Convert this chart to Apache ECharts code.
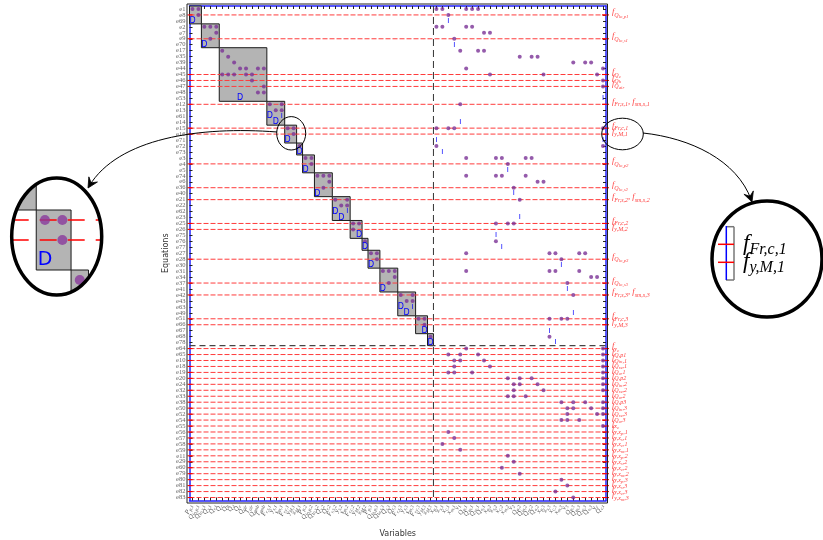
<!DOCTYPE html>
<html><head><meta charset="utf-8">
<script src="https://cdn.jsdelivr.net/npm/echarts/dist/echarts.min.js"></script>
<style>html,body{margin:0;padding:0;background:#fff}#c{width:823px;height:540px}</style>
</head><body><div id="c"></div>
<script>
// ---------------- data ----------------
const equations = ['e1','e8','e69','e2','e7','e9','e70','e17','e35','e39','e44','e45','e46','e47','e48','e53','e12','e13','e61','e14','e15','e16','e71','e72','e73','e3','e4','e5','e74','e6','e36','e40','e21','e22','e62','e23','e25','e26','e75','e76','e77','e27','e28','e30','e31','e34','e37','e41','e42','e43','e63','e49','e51','e66','e67','e68','e78','e64','e65','e10','e18','e19','e20','e24','e32','e33','e38','e50','e52','e54','e55','e56','e57','e58','e59','e11','e29','e60','e79','e80','e81','e82','e83'];
const variables = ['P_{p,1}','Q_{lo,p,1}','Q_{lo,s,1}','Q_{s,1}','Q_{r,1}','Q_{c}','Q_{h}','Q_{d}','Q_{e}','Q_{air}','T_{air}','Q_{amb}','T_{amb}','F_{r,s,1}','y_{s,1}','s_{m,1}','F_{r,c,1}','y_{M,1}','x_{M,1}','P_{p,2}','Q_{lo,p,2}','Q_{lo,s,2}','Q_{s,2}','Q_{r,2}','F_{r,s,2}','y_{s,2}','s_{m,2}','F_{r,c,2}','y_{M,2}','x_{M,2}','P_{p,3}','Q_{lo,p,3}','Q_{lo,s,3}','Q_{s,3}','Q_{r,3}','F_{r,s,3}','y_{s,3}','s_{m,3}','F_{r,c,3}','y_{M,3}','x_{M,3}','x_{p,1}','x_{s,1}','x_{c,1}','x_{m,1}','v_{1}','Q_{p,1}','Q_{in,1}','Q_{re,1}','Q_{o,1}','x_{p,2}','x_{s,2}','x_{c,2}','x_{m,2}','v_{2}','Q_{p,2}','Q_{in,2}','Q_{re,2}','Q_{o,2}','x_{p,3}','x_{s,3}','x_{c,3}','x_{m,3}','v_{3}','Q_{p,3}','Q_{in,3}','Q_{re,3}','Q_{o,3}','y_{c}','Q_{c,t}'];

// diagonal blocks [firstCol, lastCol, firstRow, lastRow]
const blocks = [[0,1,0,2],[2,4,3,6],[5,12,7,15],[13,15,16,19],[16,17,20,22],[18,18,23,24],
  [19,20,25,27],[21,23,28,31],[24,26,32,35],[27,28,36,38],[29,29,39,40],
  [30,31,41,43],[32,34,44,47],[35,37,48,51],[38,39,52,54],[40,40,55,56]];
// incidence points [col,row] inside the diagonal blocks
const blockDots = [[0,0],[1,0],[1,1],[2,3],[3,3],[4,3],[4,4],[3,5],
  [5,7],[6,8],[7,9],[8,10],[9,10],[11,10],[12,10],[5,11],[6,11],[7,11],[9,11],[10,11],[10,12],[12,13],[11,14],[12,14],
  [13,16],[15,16],[14,17],[15,17],[16,20],[17,20],[17,21],[18,23],
  [19,25],[20,25],[20,26],[21,28],[22,28],[23,28],[23,29],[22,30],
  [24,32],[26,32],[25,33],[26,33],[27,36],[28,36],[27,37],[29,39],
  [30,41],[31,41],[31,42],[32,44],[33,44],[34,44],[34,45],[33,46],
  [35,48],[37,48],[36,49],[37,49],[38,52],[39,52],[39,53],[40,55]];
// incidence points [col,row] in the coupling columns / rows
const couplingDots = [[41,0],[42,0],[46,0],[47,0],[48,0],[43,1],[41,3],[42,3],[46,3],[47,3],[49,4],[50,4],[44,5],
  [45,7],[48,7],[49,7],[55,8],[57,8],[58,8],[64,9],[66,9],[67,9],[46,10],[69,10],[50,11],[59,11],[68,11],[69,12],[69,13],
  [45,16],[41,20],[43,20],[44,20],[69,20],[41,23],[69,23],[46,25],[51,25],[52,25],[56,25],[57,25],[53,26],
  [46,28],[51,28],[52,28],[56,28],[58,29],[59,29],[54,30],[55,32],[51,36],[53,36],[54,36],[51,39],
  [46,41],[60,41],[61,41],[65,41],[66,41],[62,42],[46,44],[60,44],[61,44],[65,44],[67,45],[68,45],[63,46],[64,48],
  [60,52],[62,52],[63,52],[60,55],
  [46,57],[69,57],[43,58],[45,58],[48,58],[69,58],[44,59],[45,59],[49,59],[69,59],[44,60],[50,60],[69,60],
  [43,61],[44,61],[47,61],[69,61],[53,62],[55,62],[57,62],[69,62],[54,63],[55,63],[58,63],[69,63],[54,64],[59,64],[69,64],
  [53,65],[54,65],[56,65],[62,66],[64,66],[66,66],[69,66],[63,67],[64,67],[67,67],[69,67],[63,68],[68,68],[69,68],
  [62,69],[63,69],[65,69],[69,70],[43,71],[44,72],[42,73],[45,74],[53,75],[54,76],[52,77],[55,78],[62,79],[63,80],[61,81],[64,82]];
// 'D' and 'I' markers [col,row]
const dMarks = [[0,2],[2,6],[8,15],[13,18],[14,19],[16,22],[18,24],[19,27],[21,31],[24,34],[25,35],[28,38],[29,40],[30,43],[32,47],[35,50],[36,51],[39,54],[40,56]];
const iMarks = [[15,18],[26,34],[37,50],[43,2],[44,6],[69,15],[45,19],[41,22],[69,22],[42,24],[53,27],[54,31],[55,35],[51,38],[52,40],[62,43],[63,47],[64,51],[60,54],[61,56]];
// rows carrying a red dashed constraint line
const constraintRows = [1,5,11,12,13,16,20,21,26,30,32,36,37,42,46,48,52,53,
  57,58,59,60,61,62,63,64,65,66,67,68,69,70,71,72,73,74,75,76,77,78,79,80,81,82];
const constraintNames = ['f_{Q_{lo,p1}}','f_{Q_{lo,s1}}','f_{Q_c}','f_{Q_h}','f_{Q_{air}}','f_{Fr,s,1}, f_{sm,s,1}','f_{Fr,c,1}','f_{y,M,1}',
  'f_{Q_{lo,p2}}','f_{Q_{lo,s2}}','f_{Fr,s,2}, f_{sm,s,2}','f_{Fr,c,2}','f_{y,M,2}','f_{Q_{lo,p3}}','f_{Q_{lo,s3}}','f_{Fr,s,3}, f_{sm,s,3}','f_{Fr,c,3}','f_{y,M,3}',
  'f_{y_c}','f_{Q,p1}','f_{Q_{in},1}','f_{Q_{re},1}','f_{Q_o,1}','f_{Q,p2}','f_{Q_{in},2}','f_{Q_{re},2}','f_{Q_o,2}','f_{Q,p3}','f_{Q_{in},3}','f_{Q_{re},3}','f_{Q_o,3}',
  'f_{x_c}','f_{y,x_p,1}','f_{y,x_s,1}','f_{y,x_c,1}','f_{y,x_m,1}','f_{y,x_p,2}','f_{y,x_s,2}','f_{y,x_c,2}','f_{y,x_m,2}','f_{y,x_p,3}','f_{y,x_s,3}','f_{y,x_c,3}','f_{y,x_m,3}'];
const colSplit = 40.5, rowSplit = 56.5;
// magnified region (left lens) in data units
const lensCols = [14.09, 19.26], lensRows = [17.9, 23.75];

// ---------------- helpers ----------------
function toRich(s, p) {
  let out = '', cur = '', lvl = 0; const st = [];
  const flush = () => { if (cur) { out += '{' + p + Math.min(lvl, 2) + '|' + cur + '}'; cur = ''; } };
  for (let i = 0; i < s.length; i++) {
    const ch = s[i];
    if (ch === '_') {
      flush();
      if (s[i + 1] === '{') { st.push(lvl); lvl++; i++; }
      else { out += '{' + p + Math.min(lvl + 1, 2) + '|' + s[i + 1] + '}'; i++; }
    } else if (ch === '}') { flush(); lvl = st.pop(); }
    else cur += ch;
  }
  flush();
  return out;
}
function richSet(p, sizes, color, pads) {
  const o = {};
  sizes.forEach((fs, k) => {
    o[p + k] = { fontFamily: 'Liberation Serif', fontStyle: 'italic', fontSize: fs, lineHeight: fs, color: color,
      verticalAlign: 'bottom', padding: [0, 0, pads[k], 0] };
  });
  return o;
}
const rightLabelOf = {};
constraintRows.forEach((r, k) => { rightLabelOf[r] = toRich(constraintNames[k], 'r'); });

const RED = '#ff3c3c';
function blockItem(params, api, lw) {
  const p0 = api.coord([api.value(0), api.value(2)]);
  const p1 = api.coord([api.value(1), api.value(3)]);
  const s = api.size([1, 1]);
  return { type: 'rect', shape: { x: p0[0] - s[0] / 2, y: p0[1] - s[1] / 2, width: p1[0] - p0[0] + s[0], height: p1[1] - p0[1] + s[1] },
    style: { fill: '#b4b4b4', stroke: '#1a1a1a', lineWidth: lw } };
}
function lineItem(params, api, dash, lw, tick, color) {
  const cs = params.coordSys;
  const y = api.coord([0, api.value(1)])[1];
  const ch = [{ type: 'line', shape: { x1: cs.x, y1: y, x2: cs.x + cs.width, y2: y }, style: { stroke: color, lineWidth: lw, lineDash: dash } }];
  if (tick) {
    ch.push({ type: 'line', shape: { x1: cs.x - 2, y1: y, x2: cs.x + 3, y2: y }, style: { stroke: '#ff0000', lineWidth: 1.1 } });
    ch.push({ type: 'line', shape: { x1: cs.x + cs.width - 4, y1: y, x2: cs.x + cs.width + 3, y2: y }, style: { stroke: '#ff0000', lineWidth: 1.1 } });
  }
  return { type: 'group', children: ch };
}
function textItem(params, api, txt, fs) {
  const p = api.coord([api.value(0), api.value(1)]);
  return { type: 'text', x: p[0], y: p[1], style: { text: txt, fill: '#0000ff', fontSize: fs, fontFamily: 'DejaVu Sans', align: 'center', verticalAlign: 'middle' } };
}

const chart = echarts.init(document.getElementById('c'), null, { renderer: 'canvas' });
const blueLine = { lineStyle: { color: '#2020ff', width: 1.5 } };
const tick = { show: true, inside: true, length: 3, alignWithLabel: true, interval: 0, lineStyle: { color: '#222', width: 1 } };

const option = {
  backgroundColor: '#fff',
  animation: false,
  grid: [
    { left: 189.5, top: 6, width: 416.5, height: 494.5, outerBoundsMode: 'none', containLabel: false },
    { left: 11.7, top: 178, width: 90, height: 117, outerBoundsMode: 'none', containLabel: false }
  ],
  xAxis: [
    { type: 'category', gridIndex: 0, data: variables, position: 'bottom', boundaryGap: true,
      axisLine: blueLine, axisTick: tick, splitLine: { show: false },
      axisLabel: { interval: 0, rotate: 65, margin: 5, formatter: v => toRich(v, 'x'),
        rich: richSet('x', [6.5, 4.8, 4], '#555', [1.5, 0.5, 0]) },
      name: 'Variables', nameLocation: 'middle', nameGap: 29, nameMoveOverlap: false,
      nameTextStyle: { fontSize: 8, color: '#333', fontFamily: 'DejaVu Sans' } },
    { type: 'category', gridIndex: 0, data: variables, position: 'top', boundaryGap: true,
      axisLine: blueLine, axisTick: tick, axisLabel: { show: false }, splitLine: { show: false } },
    { type: 'value', gridIndex: 1, min: lensCols[0], max: lensCols[1], show: false }
  ],
  yAxis: [
    { type: 'category', gridIndex: 0, data: equations, inverse: true, position: 'left', boundaryGap: true,
      axisLine: blueLine, axisTick: tick, splitLine: { show: false },
      axisLabel: { interval: 0, fontSize: 6.5, color: '#666', margin: 4, fontFamily: 'Liberation Serif' },
      name: 'Equations', nameLocation: 'middle', nameGap: 20, nameRotate: 90, nameMoveOverlap: false,
      nameTextStyle: { fontSize: 8, color: '#333', fontFamily: 'DejaVu Sans' } },
    { type: 'category', gridIndex: 0, data: equations, inverse: true, position: 'right', boundaryGap: true,
      axisLine: blueLine, axisTick: tick, splitLine: { show: false },
      axisLabel: { interval: 0, margin: 6, formatter: (v, i) => rightLabelOf[i] || '',
        rich: richSet('r', [8.5, 6, 4.8], '#ff4040', [2.5, 0.8, 0]) } },
    { type: 'value', gridIndex: 1, inverse: true, min: lensRows[0], max: lensRows[1], show: false }
  ],
  series: [
    { type: 'custom', xAxisIndex: 0, yAxisIndex: 0, z: 1, data: blocks, encode: { x: [0, 1], y: [2, 3] },
      renderItem: (p, a) => blockItem(p, a, 1) },
    { type: 'custom', xAxisIndex: 0, yAxisIndex: 0, z: 2, data: constraintRows.map(r => [0, r]),
      renderItem: (p, a) => lineItem(p, a, [5, 2], 1, true, RED) },
    { type: 'custom', xAxisIndex: 0, yAxisIndex: 0, z: 2, data: [[colSplit, rowSplit]],
      renderItem: (p, api) => {
        const cs = p.coordSys; const s = api.size([1, 1]);
        const c = api.coord([Math.floor(api.value(0)), Math.floor(api.value(1))]);
        const x = c[0] + s[0] / 2, y = c[1] + s[1] / 2;
        return { type: 'group', children: [
          { type: 'line', shape: { x1: x, y1: cs.y, x2: x, y2: cs.y + cs.height }, style: { stroke: '#333', lineWidth: 1, lineDash: [7, 4] } },
          { type: 'line', shape: { x1: cs.x, y1: y, x2: cs.x + cs.width, y2: y }, style: { stroke: '#444', lineWidth: 1.2, lineDash: [6, 4] } }
        ] };
      } },
    { type: 'scatter', xAxisIndex: 0, yAxisIndex: 0, z: 3, data: blockDots.concat(couplingDots), symbolSize: 4,
      itemStyle: { color: '#7a3296' } },
    { type: 'custom', xAxisIndex: 0, yAxisIndex: 0, z: 4, data: dMarks, renderItem: (p, a) => textItem(p, a, 'D', 8) },
    { type: 'custom', xAxisIndex: 0, yAxisIndex: 0, z: 4, data: iMarks, renderItem: (p, a) => textItem(p, a, 'I', 7) },
    // magnified lens (left)
    { type: 'custom', xAxisIndex: 2, yAxisIndex: 2, z: 1, clip: true, data: blocks, encode: { x: [0, 1], y: [2, 3] },
      renderItem: (p, a) => blockItem(p, a, 1) },
    { type: 'custom', xAxisIndex: 2, yAxisIndex: 2, z: 2, clip: true, data: constraintRows.map(r => [0, r]),
      renderItem: (p, a) => lineItem(p, a, [17, 11], 1.3, false, '#ff0000') },
    { type: 'scatter', xAxisIndex: 2, yAxisIndex: 2, z: 3, clip: true, data: blockDots, symbolSize: 10,
      itemStyle: { color: '#8a3a9c' } },
    { type: 'custom', xAxisIndex: 2, yAxisIndex: 2, z: 4, clip: true, data: dMarks, renderItem: (p, a) => textItem(p, a, 'D', 19) }
  ],
  graphic: []
};
chart.setOption(option);

// ---------------- annotations (lenses and arrows) ----------------
function arrow(p0, p1, p2, p3) {
  const dx = p3[0] - p2[0], dy = p3[1] - p2[1], L = Math.hypot(dx, dy);
  const ux = dx / L, uy = dy / L, len = 10, w = 5;
  const bx = p3[0] - ux * len, by = p3[1] - uy * len;
  const mx = p3[0] - ux * len * 0.6, my = p3[1] - uy * len * 0.6;
  return [
    { type: 'bezierCurve', z: 60, shape: { x1: p0[0], y1: p0[1], cpx1: p1[0], cpy1: p1[1], cpx2: p2[0], cpy2: p2[1], x2: p3[0] - ux * 2, y2: p3[1] - uy * 2 },
      style: { stroke: '#000', lineWidth: 1, fill: null } },
    { type: 'polygon', z: 60, shape: { points: [p3, [bx - uy * w, by + ux * w], [mx, my], [bx + uy * w, by - ux * w]] },
      style: { fill: '#000', stroke: '#000', lineWidth: 0.8 } }
  ];
}
const cxL = 56.7, cyL = 236.5, rxL = 45, ryL = 58.5;
const cxR = 767, cyR = 259, rxR = 55, ryR = 58;
const lensRich = richSet('m', [23, 16, 12], '#ff0000', [3, 0, 0]);
const g = [
  { type: 'rect', z: 40, silent: true, shape: { x: 187, y: 4, width: 420.5, height: 499 }, style: { fill: null, stroke: '#222', lineWidth: 1 } },
  { type: 'ellipse', z: 60, shape: { cx: 291.2, cy: 133.3, rx: 14.5, ry: 16.7 }, style: { fill: null, stroke: '#000', lineWidth: 1 } },
  { type: 'ellipse', z: 60, shape: { cx: 622.5, cy: 134, rx: 20.8, ry: 15.8 }, style: { fill: null, stroke: '#000', lineWidth: 1 } },
  { type: 'ellipse', z: 50, shape: { cx: cxL, cy: cyL, rx: rxL + 17, ry: ryL + 17 }, style: { fill: null, stroke: '#fff', lineWidth: 34 } },
  { type: 'ellipse', z: 55, shape: { cx: cxL, cy: cyL, rx: rxL, ry: ryL }, style: { fill: null, stroke: '#000', lineWidth: 3.5 } },
  { type: 'ellipse', z: 55, shape: { cx: cxR, cy: cyR, rx: rxR, ry: ryR }, style: { fill: null, stroke: '#000', lineWidth: 3.5 } },
  { type: 'line', z: 56, shape: { x1: 734, y1: 226.7, x2: 734, y2: 280 }, style: { stroke: '#777', lineWidth: 1.5 } },
  { type: 'line', z: 56, shape: { x1: 726, y1: 226.7, x2: 734, y2: 226.7 }, style: { stroke: '#777', lineWidth: 1.5 } },
  { type: 'line', z: 56, shape: { x1: 726, y1: 280, x2: 734, y2: 280 }, style: { stroke: '#777', lineWidth: 1.5 } },
  { type: 'line', z: 57, shape: { x1: 726.3, y1: 226, x2: 726.3, y2: 280 }, style: { stroke: '#0000ff', lineWidth: 1.5 } },
  { type: 'line', z: 57, shape: { x1: 718, y1: 244.3, x2: 734, y2: 244.3 }, style: { stroke: '#ff0000', lineWidth: 1.5 } },
  { type: 'line', z: 57, shape: { x1: 718, y1: 262.3, x2: 734, y2: 262.3 }, style: { stroke: '#ff0000', lineWidth: 1.5 } },
  { type: 'text', z: 58, x: 743, y: 258, style: { text: toRich('f_{Fr,c,1}', 'm'), rich: lensRich, verticalAlign: 'bottom' } },
  { type: 'text', z: 58, x: 743, y: 276, style: { text: toRich('f_{y,M,1}', 'm'), rich: lensRich, verticalAlign: 'bottom' } }
].concat(arrow([277, 132], [200, 126], [118, 138], [88, 188]))
 .concat(arrow([643, 133], [690, 138], [737, 160], [752, 202]));
chart.setOption({ graphic: g });
</script>
</body></html>
